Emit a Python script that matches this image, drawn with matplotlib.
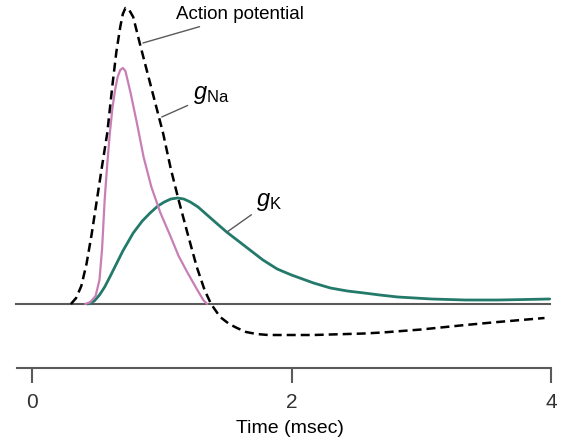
import numpy as np
import matplotlib
matplotlib.use("Agg")
import matplotlib.pyplot as plt

plt.rcParams["font.family"] = ["Liberation Sans", "DejaVu Sans"]
plt.rcParams["mathtext.fontset"] = "custom"
plt.rcParams["mathtext.it"] = "Liberation Sans:italic"
plt.rcParams["mathtext.rm"] = "Liberation Sans"

# =========================
# Data (time in msec, amplitude in arbitrary units, resting level = 0)
# =========================
ap_t = [0.30, 0.34, 0.38, 0.42, 0.46, 0.50, 0.54, 0.58, 0.62, 0.65, 0.68,
        0.70, 0.72, 0.745, 0.78, 0.83, 0.91, 1.01, 1.07, 1.13, 1.20, 1.27,
        1.33, 1.38, 1.45, 1.52, 1.58, 1.65, 1.73, 1.82, 1.91, 2.05, 2.17,
        2.30, 2.43, 2.56, 2.70, 2.85, 3.00, 3.15, 3.34, 3.59, 3.95]
ap_v = [0, 6, 18, 40, 70, 104, 138, 171, 219, 252, 277,
        290, 296, 295, 287, 261, 221, 171, 135, 104, 70, 37,
        14, 0, -13, -20, -24, -28, -30, -31, -31, -31, -31,
        -30.5, -30, -29.5, -28.5, -27, -25.5, -23.5, -21, -18, -14]

gna_t = [0.41, 0.45, 0.49, 0.52, 0.54, 0.56, 0.58, 0.60, 0.62, 0.64, 0.66,
         0.68, 0.70, 0.72, 0.74, 0.76, 0.81, 0.86, 0.92, 0.99, 1.06, 1.13,
         1.20, 1.27, 1.32, 1.35]
gna_v = [0, 2, 8, 24, 55, 104, 140, 171, 196, 214, 227,
         234, 236, 233, 222, 211, 180, 147, 117, 91, 70, 48,
         31, 15, 4, 0]

gk_t = [0.43, 0.48, 0.52, 0.56, 0.60, 0.65, 0.70, 0.78, 0.85, 0.91, 0.97,
        1.02, 1.07, 1.12, 1.17, 1.22, 1.28, 1.35, 1.42, 1.50, 1.60, 1.68,
        1.78, 1.89, 2.00, 2.17, 2.30, 2.43, 2.56, 2.68, 2.82, 2.95, 3.08,
        3.34, 3.59, 3.80, 3.99]
gk_v = [0, 3, 9, 17, 27, 40, 53, 71, 83, 91, 98,
        102, 105, 106, 105, 102, 97, 89, 81, 72, 62, 54,
        44, 35, 29, 21, 16, 13, 11, 9, 7, 6, 5,
        4, 4, 4.5, 5]

tick_vals = [0, 2, 4]
tick_labels = ["0", "2", "4"]

PINK = "#c77fb6"
TEAL = "#23796a"
GRAY = "#5a5a5a"

fig = plt.figure(figsize=(5.65, 4.44), dpi=100)
ax = fig.add_axes([0, 0, 1, 1])

# resting level
ax.plot([-0.123, 3.99], [0, 0], color=GRAY, lw=1.5, zorder=1)

ax.plot(gk_t, gk_v, color=TEAL, lw=2.0, solid_capstyle="round",
        solid_joinstyle="round", zorder=2)
ax.plot(gna_t, gna_v, color=PINK, lw=1.6, solid_capstyle="round",
        solid_joinstyle="round", zorder=3)
ax.plot(ap_t, ap_v, color="black", lw=1.8, dashes=(3.6, 2.0), zorder=4)

# annotations
ax.annotate("Action potential", xy=(0.855, 261), xytext=(1.11, 289),
            fontsize=13.5, va="center", ha="left",
            arrowprops=dict(arrowstyle="-", color=GRAY, lw=1.0,
                            shrinkA=1, shrinkB=0))
ax.annotate(r"$g_{\mathrm{Na}}$", xy=(1.0, 187), xytext=(1.24, 209),
            fontsize=17, va="center", ha="left",
            arrowprops=dict(arrowstyle="-", color=GRAY, lw=1.0,
                            shrinkA=2, shrinkB=0))
ax.annotate(r"$g_{\mathrm{K}}$", xy=(1.503, 72), xytext=(1.73, 102),
            fontsize=17, va="center", ha="left",
            arrowprops=dict(arrowstyle="-", color=GRAY, lw=1.0,
                            shrinkA=2, shrinkB=0))

# time axis
ax.set_xlim(-32 / 129.75, (565 - 32) / 129.75)
ax.set_ylim(-140, 304)
for s in ["top", "right", "left"]:
    ax.spines[s].set_visible(False)
ax.spines["bottom"].set_position(("data", -64))
ax.spines["bottom"].set_bounds(-0.116, 4.0)
ax.spines["bottom"].set_color(GRAY)
ax.spines["bottom"].set_linewidth(1.5)
ax.set_yticks([])
ax.set_xticks(tick_vals)
ax.set_xticklabels(tick_labels)
ax.tick_params(axis="x", direction="out", length=11, width=1.5, color=GRAY,
               labelsize=15, labelcolor="#333333", pad=7)
ax.set_xlabel("Time (msec)", fontsize=14)
ax.xaxis.set_label_coords(290 / 565, 1 - 428 / 444, transform=fig.transFigure)
ax.xaxis.label.set_va("center")
ax.patch.set_visible(False)

fig.savefig("out.png", dpi=100)
